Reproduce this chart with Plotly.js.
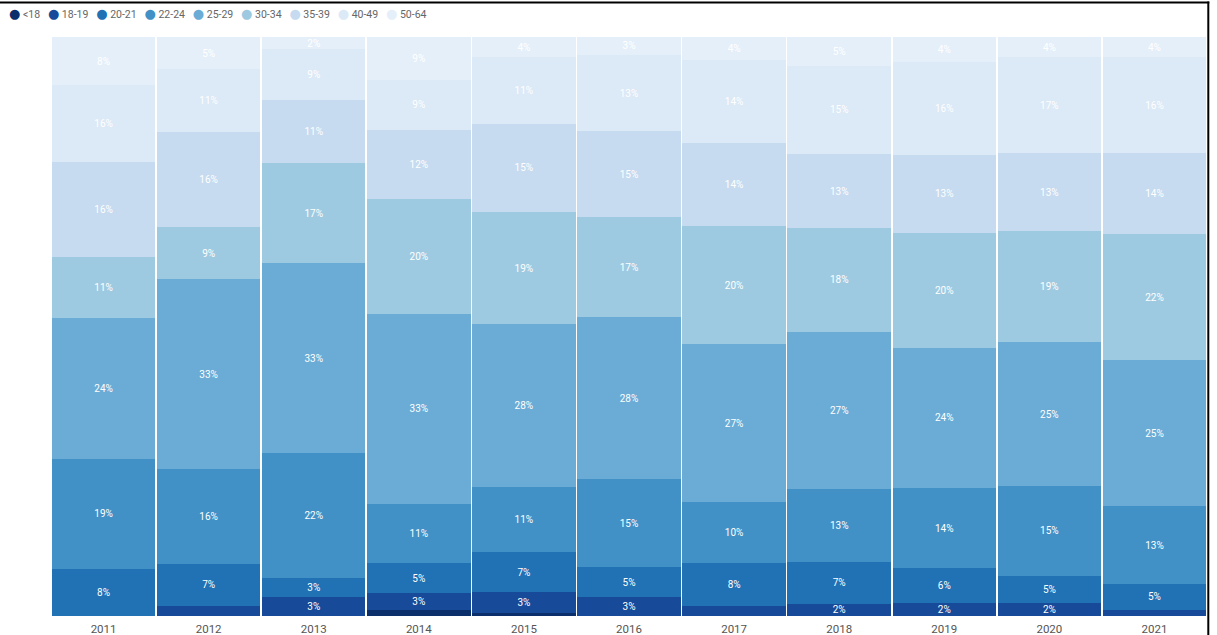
<!DOCTYPE html>
<html>
<head>
<meta charset="utf-8">
<script src="https://cdn.plot.ly/plotly-3.0.1.min.js"></script>
<style>
  html, body { margin: 0; padding: 0; background: #ffffff; }
  #chart { width: 1217px; height: 635px; }
</style>
</head>
<body>
<div id="chart"></div>
<script>
// ---- data ----
const years = ['2011','2012','2013','2014','2015','2016','2017','2018','2019','2020','2021'];
const groups = ['<18','18-19','20-21','22-24','25-29','30-34','35-39','40-49','50-64'];

const ageUnder18 = [0, 0, 0, 1.0, 0.6, 0, 0, 0, 0, 0, 0];
const age18_19   = [0, 1.7, 3.3, 2.9, 3.5, 3.2, 1.8, 2.1, 2.2, 2.3, 1.1];
const age20_21   = [8.1, 7.3, 3.2, 5.2, 6.9, 5.2, 7.4, 7.2, 6.1, 4.6, 4.5];
const age22_24   = [19.0, 16.3, 21.7, 10.3, 11.3, 15.3, 10.4, 12.7, 13.8, 15.6, 13.3];
const age25_29   = [24.3, 32.8, 32.7, 32.7, 28.0, 27.9, 27.2, 27.1, 24.3, 24.8, 25.2];
const age30_34   = [10.6, 9.0, 17.3, 19.9, 19.4, 17.3, 20.5, 17.9, 19.9, 19.3, 21.8];
const age35_39   = [16.4, 16.4, 11.0, 11.9, 15.2, 14.8, 14.3, 12.8, 13.4, 13.4, 14.0];
const age40_49   = [13.2, 10.8, 8.7, 8.6, 11.5, 13.2, 14.2, 15.2, 16.0, 16.6, 16.5];
const age50_64   = [8.3, 5.6, 2.1, 7.4, 3.5, 3.1, 4.0, 5.0, 4.4, 3.5, 3.5];

// data labels as printed on the reference
const lblUnder18 = ['', '', '', '', '', '', '', '', '', '', ''];
const lbl18_19   = ['', '', '3%', '3%', '3%', '3%', '', '2%', '2%', '2%', ''];
const lbl20_21   = ['8%', '7%', '3%', '5%', '7%', '5%', '8%', '7%', '6%', '5%', '5%'];
const lbl22_24   = ['19%', '16%', '22%', '11%', '11%', '15%', '10%', '13%', '14%', '15%', '13%'];
const lbl25_29   = ['24%', '33%', '33%', '33%', '28%', '28%', '27%', '27%', '24%', '25%', '25%'];
const lbl30_34   = ['11%', '9%', '17%', '20%', '19%', '17%', '20%', '18%', '20%', '19%', '22%'];
const lbl35_39   = ['16%', '16%', '11%', '12%', '15%', '15%', '14%', '13%', '13%', '13%', '14%'];
const lbl40_49   = ['16%', '11%', '9%', '9%', '11%', '13%', '14%', '15%', '16%', '17%', '16%'];
const lbl50_64   = ['8%', '5%', '2%', '9%', '4%', '3%', '4%', '5%', '4%', '4%', '4%'];

// ---- styles ----
const colors = ['#0b2f6b', '#174b99', '#2171b5', '#4191c6', '#6aacd6', '#9ecae1', '#c6dbef', '#dce9f6', '#e5eff9'];
const seriesValues = [ageUnder18, age18_19, age20_21, age22_24, age25_29, age30_34, age35_39, age40_49, age50_64];
const seriesLabels = [lblUnder18, lbl18_19, lbl20_21, lbl22_24, lbl25_29, lbl30_34, lbl35_39, lbl40_49, lbl50_64];

const traces = groups.map((g, i) => ({
  type: 'bar',
  name: g,
  x: years,
  y: seriesValues[i],
  text: seriesLabels[i],
  texttemplate: '%{text}',
  textposition: 'inside',
  insidetextanchor: 'middle',
  textangle: 0,
  textfont: { family: 'Roboto, "DejaVu Sans", sans-serif', size: 10, color: '#ffffff' },
  marker: { color: colors[i], line: { width: 0 } },
  hoverinfo: 'skip',
  showlegend: false
}));

// compact legend built as one annotation line
const legendText = groups.map((g, i) =>
  '<span style="color:' + colors[i] + ';font-size:13px">●</span>' +
  '<span style="color:#666666"> ' + g.replace('<', '&lt;') + '</span>'
).join('&nbsp;&nbsp;&nbsp;');

const W = 1217, H = 635;
const mL = 51, mR = 10, mT = 37, mB = 19;
const pw = W - mL - mR, ph = H - mT - mB;
const px = x => (x - mL) / pw;          // pixel -> paper x
const py = y => (H - mB - y) / ph;       // pixel -> paper y

const layout = {
  width: W,
  height: H,
  margin: { l: mL, r: mR, t: mT, b: mB, pad: 0 },
  paper_bgcolor: '#ffffff',
  plot_bgcolor: '#ffffff',
  barmode: 'stack',
  barnorm: 'percent',
  bargap: 0.016,
  uniformtext: { mode: 'show', minsize: 10 },
  xaxis: {
    type: 'category',
    showgrid: false,
    zeroline: false,
    showline: false,
    ticks: '',
    ticklabelstandoff: 4,
    tickfont: { family: 'Roboto, "DejaVu Sans", sans-serif', size: 11.5, color: '#555555' },
    fixedrange: true
  },
  yaxis: {
    range: [0, 100],
    visible: false,
    showgrid: false,
    zeroline: false,
    fixedrange: true
  },
  annotations: [{
    xref: 'paper', yref: 'paper',
    x: px(7), y: py(13),
    xanchor: 'left', yanchor: 'middle',
    showarrow: false,
    align: 'left',
    text: legendText,
    font: { family: 'Roboto, "DejaVu Sans", sans-serif', size: 10.5, color: '#666666' }
  }],
  shapes: [
    { type: 'line', xref: 'paper', yref: 'paper', x0: px(0), x1: px(1209.3), y0: py(2.5), y1: py(2.5),
      line: { color: '#000000', width: 2 } },
    { type: 'line', xref: 'paper', yref: 'paper', x0: px(1208.3), x1: px(1208.3), y0: py(1.5), y1: py(635),
      line: { color: '#000000', width: 2 } }
  ]
};

Plotly.newPlot('chart', traces, layout, { displayModeBar: false, staticPlot: true });
</script>
</body>
</html>
